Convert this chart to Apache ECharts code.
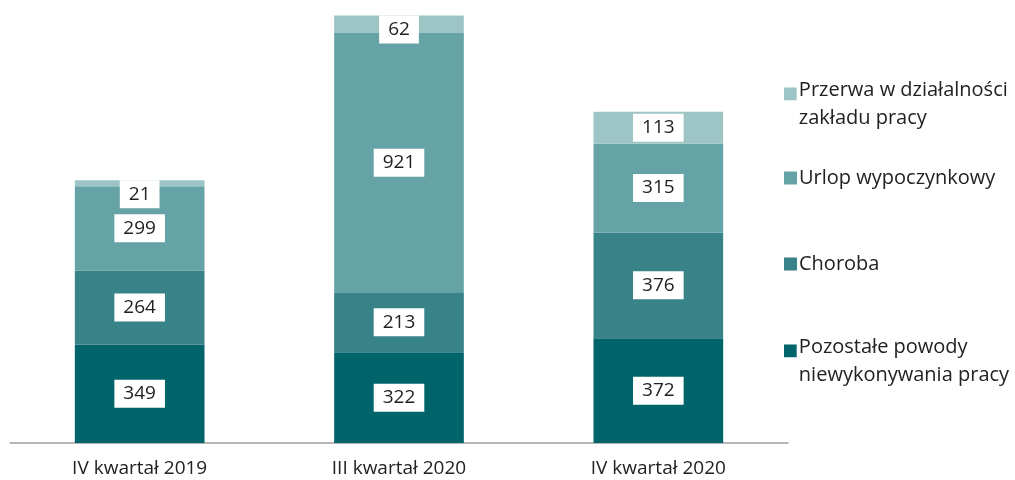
<!DOCTYPE html>
<html>
<head>
<meta charset="utf-8">
<script src="https://cdn.jsdelivr.net/npm/echarts@6/dist/echarts.min.js"></script>
<style>
  html, body { margin: 0; padding: 0; background: #fff; }
  #chart { width: 1015px; height: 480px; }
</style>
</head>
<body>
<div id="chart"></div>
<script>
var categories = ['IV kwartał 2019', 'III kwartał 2020', 'IV kwartał 2020'];
var pozostale = [349, 322, 372];
var choroba = [264, 213, 376];
var urlop = [299, 921, 315];
var przerwa = [21, 62, 113];

var names = ['Pozostałe powody niewykonywania pracy', 'Choroba', 'Urlop wypoczynkowy', 'Przerwa w działalności zakładu pracy'];
var legendText = {
    'Pozostałe powody niewykonywania pracy': 'Pozostałe powody\nniewykonywania pracy',
    'Choroba': 'Choroba',
    'Urlop wypoczynkowy': 'Urlop wypoczynkowy',
    'Przerwa w działalności zakładu pracy': 'Przerwa w działalności\nzakładu pracy'
};
var colors = ['#00646a', '#378388', '#66a3a6', '#9dc5c6'];

var chart = echarts.init(document.getElementById('chart'), null, {renderer: 'canvas'});

var font = '"Open Sans", "Noto Sans", sans-serif';
// square on the first line of a two-line legend entry
var topSquare = 'path://M0,0L10,0L10,10L0,10ZM0,25.9L0.01,25.9L0.01,26L0,26Z';

var labelBox = {
    show: true,
    position: 'inside',
    color: '#222',
    fontSize: 19,
    fontFamily: font,
    backgroundColor: '#fff',
    padding: [5, 9, 4, 9]
};

function makeSeries(idx, values) {
    var data = values.map(function (v) {
        // tiny top segments: label hangs from the bar top
        if (idx === 3 && v < 100) {
            return {value: v, label: {position: 'insideTop', distance: 0}};
        }
        return v;
    });
    return {
        name: names[idx],
        type: 'bar',
        stack: 'total',
        barWidth: '50%',
        data: data,
        itemStyle: {color: colors[idx]},
        label: labelBox,
        emphasis: {disabled: true}
    };
}

function legendItem(name, top, twoLines) {
    return {
        orient: 'vertical',
        left: 779,
        top: top,
        data: [{name: name, icon: twoLines ? topSquare : 'rect'}],
        itemWidth: 13,
        itemHeight: twoLines ? 33 : 13,
        itemGap: 0,
        selectedMode: false,
        formatter: function (n) { return legendText[n]; },
        textStyle: {color: '#222', fontSize: 20, fontFamily: font, lineHeight: 28, padding: [0, 0, 0, -3]}
    };
}

var option = {
    animation: false,
    legend: [
        legendItem(names[3], 71, true),
        legendItem(names[2], 159, false),
        legendItem(names[1], 245, false),
        legendItem(names[0], 328, true)
    ],
    grid: {left: 10, right: 227, top: 15, bottom: 37},
    xAxis: {
        type: 'category',
        data: categories,
        axisLine: {lineStyle: {color: '#a0a0a0', width: 1.5}},
        axisTick: {show: false},
        axisLabel: {color: '#222', fontSize: 19, fontFamily: font, margin: 16}
    },
    yAxis: {
        type: 'value',
        min: 0,
        max: 1520,
        show: false,
        splitLine: {show: false}
    },
    series: [
        makeSeries(0, pozostale),
        makeSeries(1, choroba),
        makeSeries(2, urlop),
        makeSeries(3, przerwa)
    ]
};

chart.setOption(option);
</script>
</body>
</html>
